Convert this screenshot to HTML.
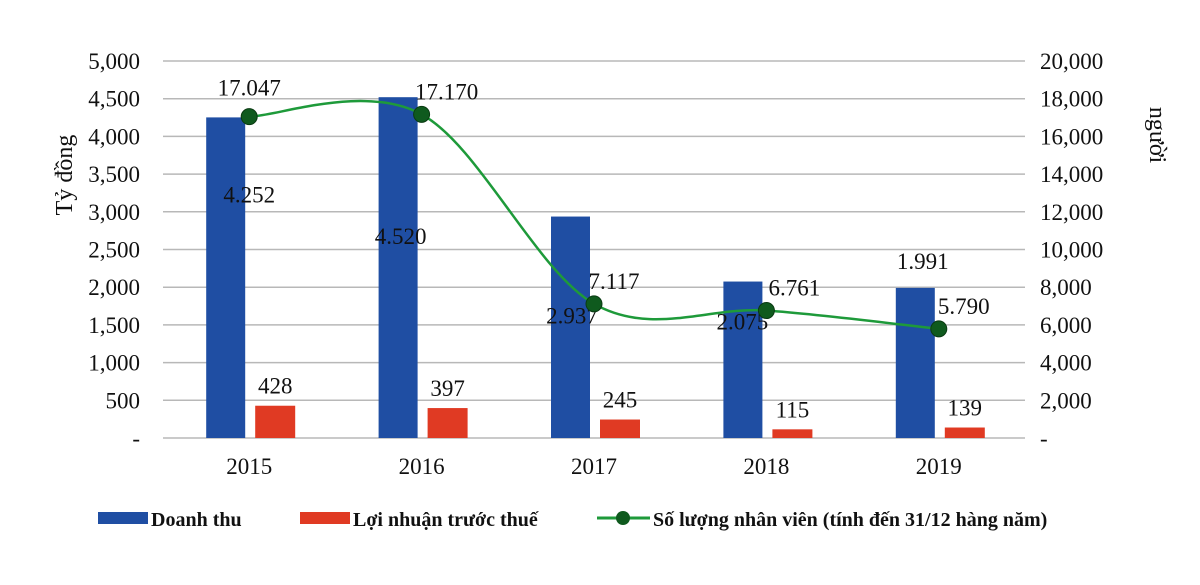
<!DOCTYPE html>
<html><head><meta charset="utf-8"><style>
body{margin:0;background:#fff;}
svg text{font-family:"Liberation Serif",serif;fill:#111;}
</style></head><body>
<svg id="c" width="1200" height="580"></svg>
<script>
const categories=["2015","2016","2017","2018","2019"];
const revenue=[4252,4520,2937,2075,1991];
const profit=[428,397,245,115,139];
const staff=[17047,17170,7117,6761,5790];
const revenueLabels=["4.252","4.520","2.937","2.075","1.991"];
const staffLabels=["17.047","17.170","7.117","6.761","5.790"];
const leftTicks=[0,500,1000,1500,2000,2500,3000,3500,4000,4500,5000];
const rightTicks=[0,2000,4000,6000,8000,10000,12000,14000,16000,18000,20000];
const ns="http://www.w3.org/2000/svg";
const svg=document.getElementById('c');
const X0=163,X1=1025,Y0=438,Y1=61;
const cw=(X1-X0)/categories.length;
const cx=i=>X0+cw*(i+0.5);
const yL=v=>Y0-(v/5000)*(Y0-Y1);
const yR=v=>Y0-(v/20000)*(Y0-Y1);
function el(t,a,txt){const e=document.createElementNS(ns,t);for(const k in a)e.setAttribute(k,a[k]);if(txt!==undefined)e.textContent=txt;svg.appendChild(e);return e;}
const fmt=v=>v===0?"-":v.toLocaleString('en-US');
leftTicks.forEach(v=>{
 const g=el('line',{x1:X0,x2:X1,y1:yL(v),y2:yL(v),stroke:'#b8b8b8','stroke-width':1.5});
 
 const t=el('text',{x:140,y:yL(v)+8,'text-anchor':'end','font-size':23},fmt(v));
 
});
rightTicks.forEach(v=>{
 const t=el('text',{x:1040,y:yR(v)+8,'font-size':23},fmt(v));
 
});
let t=el('text',{x:0,y:0,'font-size':24,'text-anchor':'middle',transform:'translate(72,175) rotate(-90)'},'Tỷ đồng');

t=el('text',{x:0,y:0,'font-size':24,'text-anchor':'middle',transform:'translate(1150,135) rotate(90)'},'người');

categories.forEach((c,i)=>{
 let b=el('rect',{x:cx(i)-43,y:yL(revenue[i]),width:39,height:Y0-yL(revenue[i]),fill:'#1f4ea3'});
 
 b=el('rect',{x:cx(i)+6,y:yL(profit[i]),width:40,height:Y0-yL(profit[i]),fill:'#e03a23'});
 
 let l=el('text',{x:cx(i)+26,y:yL(profit[i])-12,'font-size':23,'text-anchor':'middle'},String(profit[i]));
 
 l=el('text',{x:cx(i),y:474,'font-size':23,'text-anchor':'middle'},c);
 
});
// revenue labels (offsets relative to bar top)
const revDx=[0,-21,-22,-24,-16];
const revDy=[85,147,107,48,-19];
revenue.forEach((v,i)=>{
 const l=el('text',{x:cx(i)+revDx[i],y:yL(v)+revDy[i],'font-size':23,'text-anchor':'middle'},revenueLabels[i]);
 
});
// spline
const pts=staff.map((v,i)=>[cx(i),yR(v)]);
let d=`M${pts[0][0]},${pts[0][1]}`;
for(let i=0;i<pts.length-1;i++){
 const p0=pts[Math.max(0,i-1)],p1=pts[i],p2=pts[i+1],p3=pts[Math.min(pts.length-1,i+2)];
 const k=1/3;
 d+=` C${p1[0]+(p2[0]-p0[0])*k/2},${p1[1]+(p2[1]-p0[1])*k/2} ${p2[0]-(p3[0]-p1[0])*k/2},${p2[1]-(p3[1]-p1[1])*k/2} ${p2[0]},${p2[1]}`;
}
const ln=el('path',{d,fill:'none',stroke:'#1e9a3a','stroke-width':2.5});

const sDx=[0,25,20,28,25],sDy=[-21,-15,-15,-15,-15];
pts.forEach((p,i)=>{
 const c=el('circle',{cx:p[0],cy:p[1],r:8,fill:'#0f5a1e',stroke:'#0a3a12','stroke-width':1});
 
 const l=el('text',{x:p[0]+sDx[i],y:p[1]+sDy[i],'font-size':23,'text-anchor':'middle'},staffLabels[i]);
 
});
// legend
let r=el('rect',{x:98,y:512,width:50,height:12,fill:'#1f4ea3'});
t=el('text',{x:151,y:526,'font-size':20,'font-weight':'bold'},'Doanh thu');
r=el('rect',{x:300,y:512,width:50,height:12,fill:'#e03a23'});
t=el('text',{x:353,y:526,'font-size':20,'font-weight':'bold'},'Lợi nhuận trước thuế');
r=el('line',{x1:597,x2:650,y1:518,y2:518,stroke:'#1e9a3a','stroke-width':3});
r=el('circle',{cx:623,cy:518,r:7,fill:'#0f5a1e'});
t=el('text',{x:653,y:526,'font-size':20,'font-weight':'bold'},'Số lượng nhân viên (tính đến 31/12 hàng năm)');
</script>
</body></html>
